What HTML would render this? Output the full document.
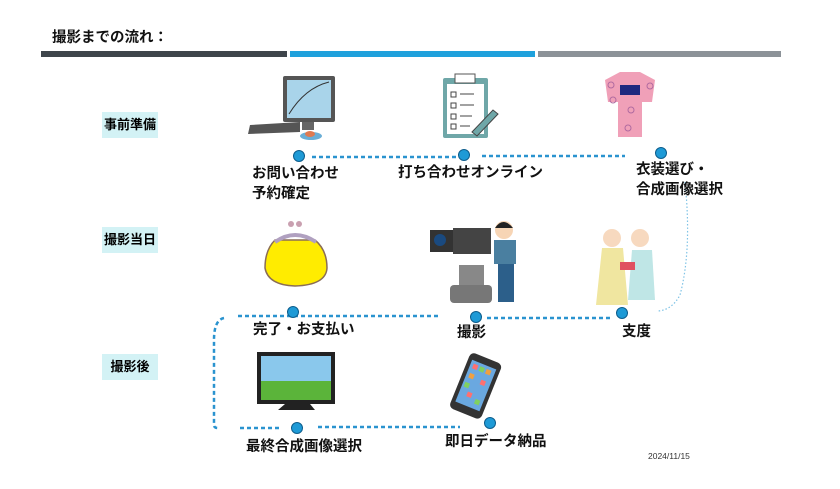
<!DOCTYPE html>
<html><head><meta charset="utf-8"><style>
body{margin:0;width:840px;height:489px;background:#fff;overflow:hidden;font-family:"Liberation Sans","Noto Sans CJK JP",sans-serif;}
.t{position:absolute;font-weight:bold;font-size:14.5px;color:#111;white-space:nowrap;line-height:20px}
.lb{position:absolute;background:#d3f2f5;font-weight:bold;font-size:13px;text-align:center;line-height:26px;width:56px;height:26px}
</style></head><body>
<div class="t" style="left:52px;top:28px;font-size:14.5px">撮影までの流れ：</div>
<div style="position:absolute;left:41px;top:51px;width:246px;height:6px;background:#3e454b"></div>
<div style="position:absolute;left:290px;top:51px;width:245px;height:6px;background:#1fa1dc"></div>
<div style="position:absolute;left:538px;top:51px;width:243px;height:6px;background:#8c9298"></div>
<div class="lb" style="left:102px;top:112px">事前準備</div>
<div class="lb" style="left:102px;top:227px">撮影当日</div>
<div class="lb" style="left:102px;top:354px">撮影後</div>
<svg width="840" height="489" style="position:absolute;left:0;top:0">
<g stroke="#2a93cf" stroke-width="2.5" stroke-dasharray="4,3" fill="none">
<path d="M312 157H460M482 156H625"/>
<path d="M238 316H440M487 318H612"/>
<path d="M224 318Q214 320 214 340V425Q214 428 218 428"/>
<path d="M240 428H282M318 427H460"/>
</g>
<path d="M685 182Q692 250 680 295Q672 310 658 311" stroke="#7fc3e6" stroke-width="1.2" stroke-dasharray="1.5,2" fill="none"/>
<g fill="#1e9ad6" stroke="#0d5d8c" stroke-width="1">
<circle cx="299" cy="156" r="5.5"/><circle cx="464" cy="155" r="5.5"/><circle cx="661" cy="153" r="5.5"/>
<circle cx="293" cy="312" r="5.5"/><circle cx="476" cy="317" r="5.5"/><circle cx="622" cy="313" r="5.5"/>
<circle cx="297" cy="428" r="5.5"/><circle cx="490" cy="423" r="5.5"/>
</g>
<!-- computer -->
<rect x="283" y="76" width="52" height="46" fill="#555" rx="2"/><rect x="287" y="80" width="44" height="38" fill="#a9d4ea"/>
<path d="M289 114Q305 88 329 82" stroke="#333" fill="none"/>
<rect x="302" y="122" width="12" height="8" fill="#666"/>
<path d="M250 125L300 122L300 132L248 134Z" fill="#555"/>
<ellipse cx="311" cy="136" rx="11" ry="4" fill="#6aaed6"/><ellipse cx="310" cy="134" rx="5" ry="3" fill="#e07a50"/>
<!-- clipboard -->
<rect x="443" y="78" width="45" height="60" fill="#6fa7a8" rx="2"/><rect x="447" y="84" width="37" height="50" fill="#fff"/>
<rect x="455" y="74" width="20" height="9" fill="#fff" stroke="#555"/>
<g stroke="#444" fill="none"><rect x="451" y="92" width="5" height="5"/><rect x="451" y="103" width="5" height="5"/><rect x="451" y="114" width="5" height="5"/><rect x="451" y="124" width="5" height="5"/>
<path d="M460 94h14M460 105h14M460 116h12M460 126h10"/></g>
<path d="M472 132L493 110L498 114L477 136Z" fill="#6fa7a8" stroke="#444"/>
<!-- kimono -->
<path d="M605 80L620 72H640L655 80L652 102H642V137H618V102H608Z" fill="#f0a0b8"/>
<rect x="620" y="85" width="20" height="10" fill="#1f2a80"/>
<g fill="none" stroke="#b06aa0"><circle cx="611" cy="85" r="3"/><circle cx="650" cy="86" r="3"/><circle cx="631" cy="110" r="3"/><circle cx="628" cy="128" r="3"/><circle cx="613" cy="100" r="3"/></g>
<!-- purse -->
<path d="M275 240Q265 250 265 268Q268 285 295 286Q326 285 327 268Q327 250 315 240Z" fill="#ffec00" stroke="#8a6d55" stroke-width="1.5"/>
<path d="M275 242Q295 228 316 242" stroke="#b0a0c0" stroke-width="4" fill="none"/>
<circle cx="291" cy="224" r="3" fill="#c9a0b0"/><circle cx="299" cy="224" r="3" fill="#c9a0b0"/>
<!-- camera -->
<rect x="430" y="230" width="25" height="22" fill="#333"/><circle cx="440" cy="240" r="6" fill="#1a4a80"/>
<rect x="453" y="228" width="38" height="26" fill="#444"/>
<rect x="459" y="265" width="25" height="25" fill="#888"/>
<rect x="450" y="285" width="42" height="18" fill="#777" rx="4"/>
<circle cx="504" cy="230" r="9" fill="#f7d5b5"/><path d="M495 228Q503 216 513 228Z" fill="#222"/>
<rect x="494" y="240" width="22" height="24" fill="#4a7fa0"/><rect x="498" y="264" width="16" height="38" fill="#2c5f8a"/>
<!-- women -->
<circle cx="612" cy="238" r="9" fill="#f7d9bf"/><circle cx="640" cy="238" r="9" fill="#f7d9bf"/>
<path d="M602 248H623L628 305H596Z" fill="#f0e6a0"/><path d="M632 250H652L655 300H628Z" fill="#bfe6e6"/>
<rect x="620" y="262" width="15" height="8" fill="#e05060"/>
<!-- tv -->
<rect x="257" y="352" width="78" height="52" fill="#222"/><rect x="261" y="356" width="70" height="25" fill="#8ac8ec"/><rect x="261" y="381" width="70" height="19" fill="#5bb43a"/>
<path d="M285 404H310L315 410H278Z" fill="#222"/>
<!-- phone -->
<g transform="rotate(22 476 385)"><rect x="459" y="356" width="34" height="60" rx="5" fill="#333"/>
<rect x="463" y="363" width="26" height="45" fill="#6aa8e0"/>
<g fill="#ff7070"><rect x="466" y="366" width="5" height="5"/><rect x="479" y="378" width="5" height="5"/><rect x="471" y="394" width="5" height="5"/></g>
<g fill="#80d060"><rect x="473" y="366" width="5" height="5"/><rect x="465" y="386" width="5" height="5"/><rect x="481" y="398" width="5" height="5"/></g>
<g fill="#f0a040"><rect x="480" y="366" width="5" height="5"/><rect x="466" y="376" width="5" height="5"/></g></g>
</svg>
<div class="t" style="left:252px;top:164px">お問い合わせ<br>予約確定</div>
<div class="t" style="left:398px;top:163px">打ち合わせオンライン</div>
<div class="t" style="left:636px;top:160px">衣装選び・<br>合成画像選択</div>
<div class="t" style="left:253px;top:320px">完了・お支払い</div>
<div class="t" style="left:457px;top:323px">撮影</div>
<div class="t" style="left:622px;top:322px">支度</div>
<div class="t" style="left:246px;top:437px">最終合成画像選択</div>
<div class="t" style="left:445px;top:432px">即日データ納品</div>
<div class="t" style="left:648px;top:446px;font-size:8.5px;font-weight:normal;color:#333">2024/11/15</div>
</body></html>
